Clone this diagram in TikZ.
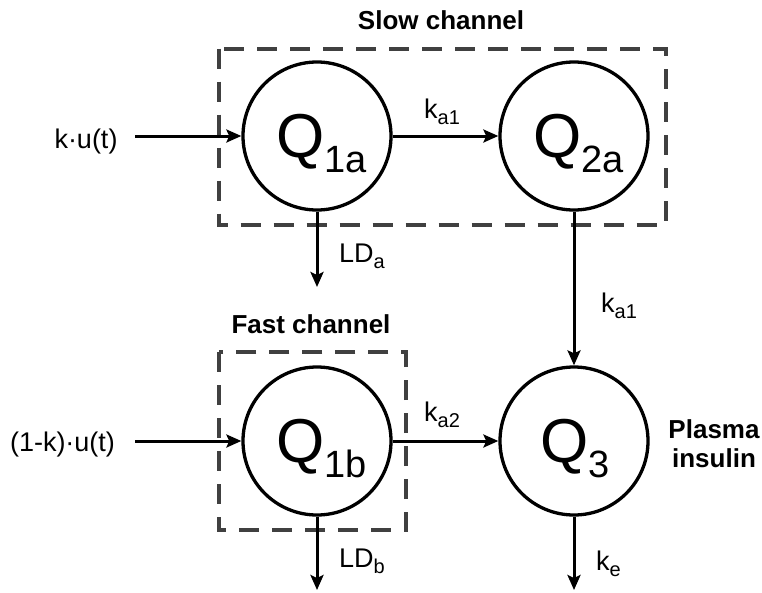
\documentclass[tikz,border=0pt]{standalone}
\usepackage{fontspec}
\setmainfont{Liberation Sans}
\usetikzlibrary{arrows.meta}
\tikzset{
  comp/.style={circle, draw=black, line width=3.3pt, minimum size=148pt, inner sep=0pt},
  qtext/.style={anchor=base, inner sep=0pt, font=\fontsize{62}{62}\selectfont},
  lbl/.style={inner sep=0pt, font=\fontsize{27}{30}\selectfont},
  ttl/.style={anchor=base, inner sep=0pt, font=\fontsize{26}{30}\selectfont\bfseries},
  flow/.style={line width=3pt, -{Stealth[length=15pt,width=13pt,inset=3pt]}},
  chanbox/.style={draw=black!75, line width=4.2pt, dash pattern=on 20pt off 13pt}
}
\newcommand{\qsub}[2]{#1\raisebox{-15pt}{\fontsize{38}{38}\selectfont #2}}
\newcommand{\lsub}[2]{#1\raisebox{-6pt}{\fontsize{20}{20}\selectfont #2}}
\begin{document}
\begin{tikzpicture}[x=1pt,y=-1pt]
\useasboundingbox (0,0) rectangle (762,592);
% channel boxes
\draw[chanbox] (218.7,48.7) rectangle (665.7,224.7);
\draw[chanbox] (218.7,352) rectangle (406.3,529.7);
\node[ttl] (slow) at (441,29) {Slow channel};
\node[ttl] (fast) at (311,333) {Fast channel};
% compartments
\node[comp] (Q1a) at (317,136) {};
\node[comp] (Q2a) at (574,136) {};
\node[comp] (Q1b) at (317,441) {};
\node[comp] (Q3) at (574,441) {};
\node[qtext] (t1a) at (321.5,157) {\qsub{Q}{1a}};
\node[qtext] (t2a) at (578.5,157) {\qsub{Q}{2a}};
\node[qtext] (t1b) at (321.5,462) {\qsub{Q}{1b}};
\node[qtext] (t3) at (575,462) {\qsub{Q}{3}};
% inputs
\node[lbl, anchor=base] (ku) at (86,148) {k·u(t)};
\node[lbl, anchor=base] (kku) at (62.5,451) {(1-k)·u(t)};
\coordinate (inA) at (135,136);
\coordinate (inB) at (135,441);
\draw[flow] (inA) -- (Q1a);
\draw[flow] (inB) -- (Q1b);
% transfers
\draw[flow] (Q1a) -- (Q2a);
\draw[flow] (Q2a) -- (Q3);
\draw[flow] (Q1b) -- (Q3);
% losses
\coordinate (outA) at (317,287);
\coordinate (outB) at (317,590);
\coordinate (outE) at (574,590);
\draw[flow] (Q1a.south) -- (outA);
\draw[flow] (Q1b.south) -- (outB);
\draw[flow] (Q3.south) -- (outE);
% labels
\node[lbl, anchor=base west] (ka1t) at (424,118) {\lsub{k}{a1}};
\node[lbl, anchor=base west] (ka1r) at (601,312) {\lsub{k}{a1}};
\node[lbl, anchor=base west] (ka2) at (424,421) {\lsub{k}{a2}};
\node[lbl, anchor=base west] (lda) at (339,262) {\lsub{LD}{a}};
\node[lbl, anchor=base west] (ldb) at (339,567) {\lsub{LD}{b}};
\node[lbl, anchor=base west] (ke) at (596,570) {\lsub{k}{e}};
\node[ttl] (plasma) at (714,438) {Plasma};
\node[ttl] (insulin) at (714,467) {insulin};
\end{tikzpicture}
\end{document}
